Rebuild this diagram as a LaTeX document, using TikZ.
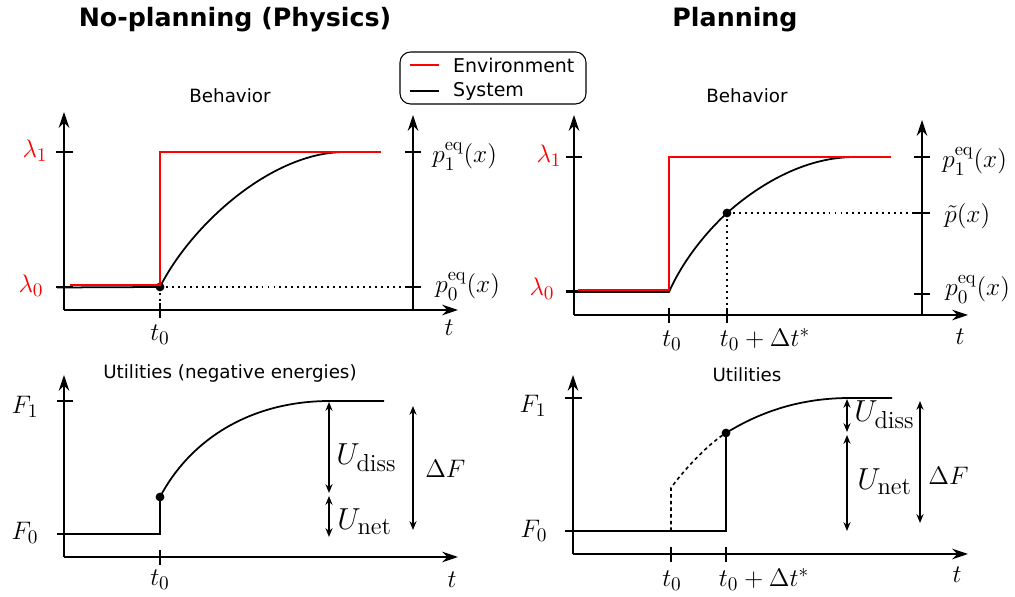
\documentclass[tikz,border=0pt]{standalone}
\usepackage{amsmath}
\usepackage{fontspec}
\setsansfont{DejaVu Sans}
\usetikzlibrary{arrows.meta,positioning}
\DeclareMathSizes{16.5}{16.5}{14}{10}

\begin{document}
\begin{tikzpicture}[
    x=0.02cm, y=-0.02cm,
    font=\fontsize{15}{18}\selectfont,
    >={Stealth[length=9pt, width=6pt]},
    axis/.style={->, line width=1.1pt},
    tickmark/.style={line width=1.1pt},
    env/.style={draw=red, line width=1.1pt},
    sys/.style={draw=black, line width=1pt},
    guide/.style={line width=1.1pt, dash pattern=on 1.1pt off 2.3pt},
    ghost/.style={line width=0.9pt, dash pattern=on 2pt off 1.8pt},
    span/.style={{Stealth[length=5pt, width=4pt]}-{Stealth[length=5pt, width=4pt]}, line width=0.8pt},
    headline/.style={font=\fontsize{14.4}{17}\sffamily\bfseries, anchor=base},
    capt/.style={font=\fontsize{10.4}{12}\sffamily},
    legtext/.style={font=\fontsize{10.8}{13}\sffamily, anchor=west},
    dotmark/.style={circle, fill=black, inner sep=0pt, minimum size=5pt},
    lbl/.style={anchor=base, inner sep=0pt},
    rlbl/.style={anchor=base west, inner sep=0pt},
    ulbl/.style={anchor=base west, inner sep=0pt, font=\fontsize{16.5}{19}\selectfont},
  ]
    \useasboundingbox (0,0) rectangle (1015,597);

    % ===== Titles and legend =====
    \node[headline] (ttlL) at (235,27) {No-planning (Physics)};
    \node[headline] (ttlR) at (735,27) {Planning};

    \draw[rounded corners=6pt, line width=0.6pt] (400,52) rectangle (586,104);
    \draw[env] (410,65) -- (439,65);
    \draw[sys] (410,91) -- (439,91);
    \node[legtext] (legEnv) at (447,65) {Environment};
    \node[legtext] (legSys) at (447,91) {System};

    % ===== Top left: behavior, no planning =====
    \node[capt] (capTL) at (230,96) {Behavior};
    \draw[axis] (64,310) -- (64,112);
    \draw[axis] (64,310) -- (458,310);
    \draw[axis] (413,310) -- (413,115);
    \draw[tickmark] (56,152) -- (73,152);
    \draw[tickmark] (56,287) -- (73,287);
    \draw[tickmark] (405,152) -- (421,152);
    \draw[tickmark] (405,287) -- (421,287);
    \draw[tickmark] (160,303) -- (160,318);

    \node[dotmark] (dTL) at (160,287) {};
    \draw[guide] (dTL.center) -- (413,287);
    \draw[guide] (dTL.center) -- (160,310);
    \draw[sys] (57,287.5) -- (dTL.center)
      .. controls (190,227) and (270,152) .. (345,152);
    \draw[env] (70,285) -- (160,285) -- (160,152) -- (381,152);

    \node[lbl, text=red] (lam1L) at (35,158) {$\lambda_1$};
    \node[lbl, text=red] (lam0L) at (31,293) {$\lambda_0$};
    \node[rlbl] (p1L) at (432,163) {$p_1^{\mathrm{eq}}(x)$};
    \node[rlbl] (p0L) at (435,293) {$p_0^{\mathrm{eq}}(x)$};
    \node[lbl] (t0L) at (160,341) {$t_0$};
    \node[lbl] (tL) at (449,336) {$t$};

    % ===== Top right: behavior, planning =====
    \node[capt] (capTR) at (747,96) {Behavior};
    \draw[axis] (574,315) -- (574,115);
    \draw[axis] (574,315) -- (968,315);
    \draw[axis] (922,315) -- (922,120);
    \draw[tickmark] (566,157) -- (582,157);
    \draw[tickmark] (566,291) -- (582,291);
    \draw[tickmark] (914,157) -- (930,157);
    \draw[tickmark] (914,213) -- (930,213);
    \draw[tickmark] (914,294) -- (930,294);
    \draw[tickmark] (669,308) -- (669,323);
    \draw[tickmark] (727,308) -- (727,323);

    \node[dotmark] (dTR) at (727,213) {};
    \draw[guide] (dTR.center) -- (922,213);
    \draw[guide] (dTR.center) -- (727,315);
    \draw[sys] (566,292) -- (669,292)
      .. controls (680,267) and (700,238) .. (dTR.center)
      .. controls (762,182) and (807,157) .. (855,157);
    \draw[env] (578,290) -- (669,290) -- (669,157) -- (891,157);

    \node[lbl, text=red] (lam1R) at (549,163) {$\lambda_1$};
    \node[lbl, text=red] (lam0R) at (542,296) {$\lambda_0$};
    \node[rlbl] (p1R) at (942,168) {$p_1^{\mathrm{eq}}(x)$};
    \node[rlbl] (ptR) at (944,223) {$\tilde{p}(x)$};
    \node[rlbl] (p0R) at (945,296) {$p_0^{\mathrm{eq}}(x)$};
    \node[lbl] (t0R) at (672,347) {$t_0$};
    \node[lbl] (tdR) at (765,347) {$t_0+\Delta t^{*}$};
    \node[lbl] (tR) at (960,345) {$t$};

    % ===== Bottom left: utilities, no planning =====
    \node[capt] (capBL) at (230,373) {Utilities (negative energies)};
    \draw[axis] (64,557) -- (64,375);
    \draw[axis] (64,557) -- (458,557);
    \draw[tickmark] (57,401) -- (73,401);
    \draw[tickmark] (160,550) -- (160,565);

    \node[dotmark] (dBL) at (160,497) {};
    \draw[sys] (57,534) -- (160,534) -- (dBL.center)
      .. controls (190,440) and (250,401) .. (330,401) -- (384,401);

    \draw[span] (329,402) -- (329,493);
    \draw[span] (329,496) -- (329,537);
    \draw[span] (413,406) -- (413,530);

    \node[lbl] (F1L) at (25,414) {$F_1$};
    \node[lbl] (F0L) at (25,540) {$F_0$};
    \node[ulbl] (UdL) at (336,465) {$U_{\mathrm{diss}}$};
    \node[ulbl] (UnL) at (337,530) {$U_{\mathrm{net}}$};
    \node[rlbl] (dFL) at (425,478) {$\Delta F$};
    \node[lbl] (t0BL) at (160,586) {$t_0$};
    \node[lbl] (tBL) at (452,588) {$t$};

    % ===== Bottom right: utilities, planning =====
    \node[capt] (capBR) at (747,375) {Utilities};
    \draw[axis] (573,554) -- (573,375);
    \draw[axis] (573,554) -- (968,554);
    \draw[tickmark] (565,398) -- (582,398);
    \draw[tickmark] (671,547) -- (671,562);
    \draw[tickmark] (726,547) -- (726,562);

    \node[dotmark] (dBR) at (726,433) {};
    \draw[ghost] (671,531) -- (671,488)
      .. controls (680,475) and (705,446) .. (dBR.center);
    \draw[sys] (565,531) -- (726,531) -- (dBR.center)
      .. controls (760,412) and (800,398) .. (850,398) -- (892,398);

    \draw[span] (847,399) -- (847,432);
    \draw[span] (847,435) -- (847,531);
    \draw[span] (920,401) -- (920,523);

    \node[lbl] (F1R) at (533,413) {$F_1$};
    \node[lbl] (F0R) at (534,538) {$F_0$};
    \node[ulbl] (UdR) at (854,422) {$U_{\mathrm{diss}}$};
    \node[ulbl] (UnR) at (857,490) {$U_{\mathrm{net}}$};
    \node[rlbl] (dFR) at (928,485) {$\Delta F$};
    \node[lbl] (t0BR) at (672,587) {$t_0$};
    \node[lbl] (tdBR) at (764,587) {$t_0+\Delta t^{*}$};
    \node[lbl] (tBR) at (957,583) {$t$};

  \end{tikzpicture}
\end{document}
